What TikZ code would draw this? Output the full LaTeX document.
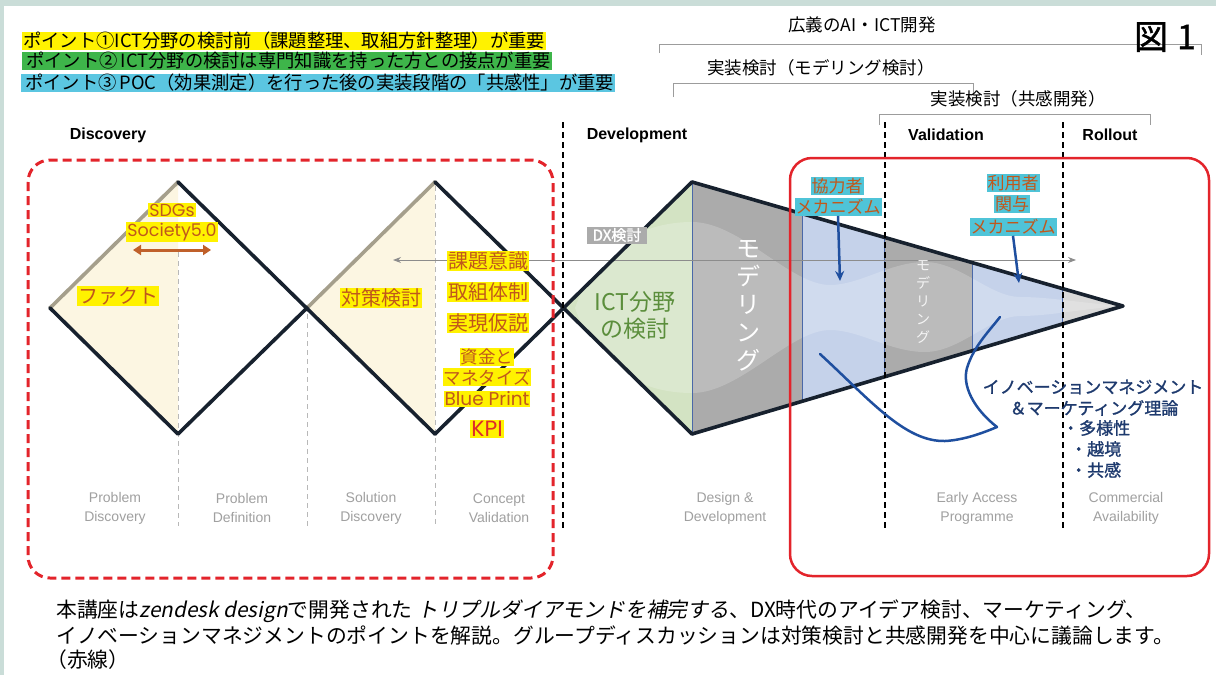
\documentclass[tikz,border=0pt]{standalone}
\usepackage{fontspec}
\usepackage{graphicx}
\usetikzlibrary{arrows.meta}
\setmainfont{Noto Sans CJK JP}
\newfontfamily\jpsl[FakeSlant=0.2]{Noto Sans CJK JP}
\newfontfamily\jpbf[FakeBold=1.2]{Noto Sans CJK JP}
\newfontfamily\lat{Liberation Sans}
\newfontfamily\pop{Poppins}
\definecolor{strip}{HTML}{CADDD8}
\definecolor{hlY}{HTML}{FFF200}
\definecolor{hlG}{HTML}{3EB54A}
\definecolor{hlC}{HTML}{5BC6E1}
\definecolor{edgec}{HTML}{17212E}
\definecolor{tanc}{HTML}{A59F8C}
\definecolor{cream}{HTML}{FCF6E2}
\definecolor{greenf}{HTML}{D3E3C3}
\definecolor{grayf}{HTML}{ABABAB}
\definecolor{bluef}{HTML}{C5D2EA}
\definecolor{lgrayf}{HTML}{D9D9D9}
\definecolor{secline}{HTML}{4A68A8}
\definecolor{rred}{HTML}{E3242B}
\definecolor{navy}{HTML}{1E3A6E}
\definecolor{dblue}{HTML}{1F4F9F}
\definecolor{brownt}{HTML}{C0581C}
\definecolor{labgray}{HTML}{A0A0A0}
\definecolor{brk}{HTML}{9C9C9C}
\definecolor{ictg}{HTML}{5B8E3C}
\definecolor{cyanhl}{HTML}{4FC4D8}
\definecolor{dxgray}{HTML}{ABABAB}
\definecolor{arrgray}{HTML}{8C8C8C}
\definecolor{sdgarrow}{HTML}{C0602A}
\tikzset{
  hl/.style={inner xsep=1pt, inner ysep=0pt, minimum height=18pt, anchor=west, text=black, font=\fontsize{18.3}{18.3}\selectfont},
  ytag/.style={fill=hlY, text=brownt, inner xsep=1pt, inner ysep=1pt},
  ctag/.style={fill=cyanhl, text=brownt, inner xsep=1pt, inner ysep=1pt, font=\fontsize{17}{17}\selectfont},
  brkt/.style={draw=brk, line width=1pt},
  toptext/.style={font=\fontsize{17.5}{17.5}\selectfont, inner sep=0pt},
  headtext/.style={font=\lat\bfseries\fontsize{16}{16}\selectfont, inner sep=0pt},
  subtext/.style={font=\lat\fontsize{14}{19}\selectfont, text=labgray, align=center, inner sep=0pt},
  blackdash/.style={draw=black, line width=2pt, dash pattern=on 6pt off 4pt},
  graydash/.style={draw=black!28, line width=1pt, dash pattern=on 5pt off 4pt},
  dedge/.style={draw=edgec, line width=3.6pt, line cap=round, line join=round},
  tedge/.style={draw=tanc, line width=3.6pt, line cap=round},
  barrow/.style={draw=dblue, line width=2.5pt, -{Stealth[length=10pt,width=9pt]}},
  garrow/.style={draw=arrgray, line width=0.9pt, {Stealth[length=8pt,width=6pt]}-{Stealth[length=8pt,width=6pt]}},
  sarrow/.style={draw=sdgarrow, line width=3pt, {Triangle[length=8pt,width=10pt]}-{Triangle[length=8pt,width=10pt]}},
  navyt/.style={text=navy, font=\jpbf\fontsize{17}{17}\selectfont, inner sep=0pt},
  para/.style={anchor=west, inner sep=0pt, font=\fontsize{20.8}{20.8}\selectfont},
}
\begin{document}
\begin{tikzpicture}[x=1pt,y=-1pt]
\useasboundingbox (0,0) rectangle (1216,675);
\fill[white] (0,0) rectangle (1216,675);
\fill[strip] (0,0) rectangle (1216,6);
\fill[strip] (0,0) rectangle (4,675);

% key points
\coordinate (L1) at (50,308);
\coordinate (T1) at (178,182);
\coordinate (B1) at (178,434);
\coordinate (M) at (307,308);
\coordinate (T2) at (435,182);
\coordinate (B2) at (435,434);
\coordinate (X) at (563,308);
\coordinate (T3) at (692,182);
\coordinate (B3) at (692,434);
\coordinate (Tip) at (1123,306);

% fills
\fill[cream] (L1)--(T1)--(B1)--cycle;
\fill[cream] (M)--(T2)--(B2)--cycle;
\fill[greenf] (X)--(T3)--(B3)--cycle;
\begin{scope}
  \clip (T3)--(Tip)--(B3)--cycle;
  \fill[grayf] (692,170) rectangle (802,450);
  \fill[bluef] (802,170) rectangle (884,450);
  \fill[grayf] (884,170) rectangle (972,450);
  \fill[bluef] (972,170) rectangle (1062,450);
  \fill[lgrayf] (1062,170) rectangle (1130,450);
\end{scope}
\begin{scope}
  \clip (X)--(T3)--(Tip)--(B3)--cycle;
  \fill[white, opacity=0.2] (575,308) .. controls (600,240) and (650,222) .. (692,222)
    .. controls (740,222) and (790,285) .. (830,285)
    .. controls (860,285) and (890,262) .. (925,262)
    .. controls (960,262) and (990,297) .. (1020,297)
    .. controls (1050,297) and (1080,303) .. (1123,306)
    .. controls (1080,309) and (1050,316) .. (1020,316)
    .. controls (990,316) and (960,352) .. (925,352)
    .. controls (890,352) and (860,330) .. (830,330)
    .. controls (790,330) and (740,393) .. (692,393)
    .. controls (650,393) and (600,376) .. (575,308) -- cycle;
\end{scope}
\begin{scope}
  \clip (T3)--(Tip)--(B3)--cycle;
  \foreach \xx in {692,802,884,972,1062} \draw[secline, line width=0.9pt] (\xx,170) -- (\xx,450);
\end{scope}

% light dashed dividers
\draw[graydash] (178,252) -- (178,526);
\draw[graydash] (307,314) -- (307,526);
\draw[graydash] (435,186) -- (435,526);

% long gray arrow
\coordinate (aL) at (393,260);
\coordinate (aR) at (1076,260);
\draw[garrow] (aL) -- (aR);

% diamond edges
\draw[tedge] (L1)--(T1);
\draw[tedge] (M)--(T2);
\draw[dedge] (L1)--(B1)--(M);
\draw[dedge] (T1)--(B2);
\draw[dedge] (B2)--(T3);
\draw[dedge] (T2)--(B3);
\draw[dedge] (T3)--(Tip)--(B3);

% phase dividers
\foreach \xx in {563,885,1063} \draw[blackdash] (\xx,122) -- (\xx,528);

% red frames
\draw[rred, line width=3pt, dash pattern=on 9pt off 5pt, rounded corners=22pt] (28,160) rectangle (553,578);
\draw[rred, line width=2.5pt, rounded corners=22pt] (790,158) rectangle (1209,576);

% brackets
\draw[brkt] (659,53) -- (659,44) -- (1201,44) -- (1201,55);
\draw[brkt] (673,97) -- (673,83) -- (973,83) -- (973,94);
\draw[brkt] (879,125) -- (879,114) -- (1150,114) -- (1150,125);
\node[toptext] (t1) at (862,25) {広義のAI・ICT開発};
\node[toptext] (t2) at (821,68) {実装検討（モデリング検討）};
\node[toptext] (t3) at (1018,99) {実装検討（共感開発）};
\node[font=\jpbf\fontsize{34}{34}\selectfont, inner sep=0pt] (fig) at (1165,37) {図\hspace{9pt}1};

% legend
\node[hl, fill=hlY] (p1) at (22,41) {ポイント①ICT分野の検討前（課題整理、取組方針整理）が重要};
\node[hl, fill=hlG] (p2) at (22,61) {\,ポイント②\,ICT分野の検討は専門知識を持った方との接点が重要};
\node[hl, fill=hlC] (p3) at (21,83) {\,ポイント③\,POC（効果測定）を行った後の実装段階の「共感性」が重要};

% headers
\node[headtext] (h1) at (108,135) {Discovery};
\node[headtext] (h2) at (637,135) {Development};
\node[headtext] (h3) at (946,135) {Validation};
\node[headtext] (h4) at (1110,135) {Rollout};

% sub labels
\node[subtext] (s1) at (115,508) {Problem\\Discovery};
\node[subtext] (s2) at (242,508) {Problem\\Definition};
\node[subtext] (s3) at (371,508) {Solution\\Discovery};
\node[subtext] (s4) at (499,508) {Concept\\Validation};
\node[subtext] (s5) at (725,508) {Design \&\\Development};
\node[subtext] (s6) at (977,508) {Early Access\\Programme};
\node[subtext] (s7) at (1126,508) {Commercial\\Availability};

% discovery labels
\node[ytag, font=\pop\fontsize{17.5}{17.5}\selectfont] (sdg) at (172,210) {SDGs};
\node[ytag, font=\pop\fontsize{17.5}{17.5}\selectfont] (soc) at (172,232) {Society5.0};
\coordinate (sa1) at (133,250);
\coordinate (sa2) at (211,250);
\draw[sarrow] (sa1) -- (sa2);
\node[ytag, font=\fontsize{20}{20}\selectfont] (fact) at (118,296) {ファクト};
\node[ytag, font=\fontsize{20}{20}\selectfont] (taisaku) at (381,298) {対策検討};
\node[ytag, font=\fontsize{20}{20}\selectfont] (kadai) at (488,261) {課題意識};
\node[ytag, font=\fontsize{20}{20}\selectfont] (tori) at (488,292) {取組体制};
\node[ytag, font=\fontsize{20}{20}\selectfont] (jitsu) at (488,323) {実現仮説};
\node[ytag, font=\fontsize{17.5}{17.5}\selectfont] (shikin) at (487,357) {資金と};
\node[ytag, font=\fontsize{17.5}{17.5}\selectfont] (mone) at (487,377) {マネタイズ};
\node[ytag, font=\pop\fontsize{18.5}{18.5}\selectfont] (bp) at (487,399) {Blue Print};
\node[ytag, text=rred!85!brownt, font=\pop\fontsize{22}{22}\selectfont] (kpi) at (487,429) {KPI};

% development labels
\node[fill=dxgray, text=white, font=\jpbf\fontsize{15}{15}\selectfont, minimum width=60pt, minimum height=17pt, inner sep=0pt] (dx) at (617,235) {DX検討};
\node[text=ictg, align=center, font=\fontsize{23}{27}\selectfont, inner sep=0pt] (ict) at (635,316) {ICT分野\\の検討};
\node[text=white, align=center, font=\fontsize{24}{28}\selectfont, inner sep=0pt] (mod1) at (748,306) {モ\\デ\\リ\\ン\\グ};
\node[text=white!92!gray, align=center, font=\fontsize{14}{18}\selectfont, inner sep=0pt] (mod2) at (923,302) {モ\\デ\\リ\\ン\\グ};

% mechanism tags and arrows
\node[ctag] (k1) at (837,186) {協力者};
\node[ctag] (k2) at (838,207) {メカニズム};
\coordinate (k2end) at (840,281);
\draw[barrow] (k2.south) -- (k2end);
\node[ctag] (u1) at (1013,183) {利用者};
\node[ctag] (u2) at (1012,204) {関与};
\node[ctag] (u3) at (1013,227) {メカニズム};
\coordinate (u3end) at (1019,283);
\draw[barrow] (u3.south) -- (u3end);

% hook curve
\draw[dblue, line width=2.5pt, line cap=round, line join=round] (820,354) .. controls (870,400) and (905,442) .. (945,441)
  .. controls (965,440) and (985,432) .. (997,427)
  .. controls (975,410) and (960,385) .. (968,365)
  .. controls (975,345) and (990,330) .. (1000,317);

% innovation text
\node[navyt] (inv1) at (1093,387) {イノベーションマネジメント};
\node[navyt] (inv2) at (1094,408) {＆マーケティング理論};
\node[navyt, anchor=west] (b1) at (1062,428) {・多様性};
\node[navyt, anchor=west] (b2) at (1070,449) {・越境};
\node[navyt, anchor=west] (b3) at (1070,470) {・共感};

% bottom paragraph
\node[para] (para1) at (56,611) {本講座は{\jpsl zendesk design}で開発された {\jpsl トリプルダイアモンドを補完する}、DX時代のアイデア検討、マーケティング、};
\node[para] (para2) at (56,636) {イノベーションマネジメントのポイントを解説。グループディスカッションは対策検討と共感開発を中心に議論します。};
\node[para] (para3) at (46,660) {（赤線）};
\end{tikzpicture}
\end{document}
